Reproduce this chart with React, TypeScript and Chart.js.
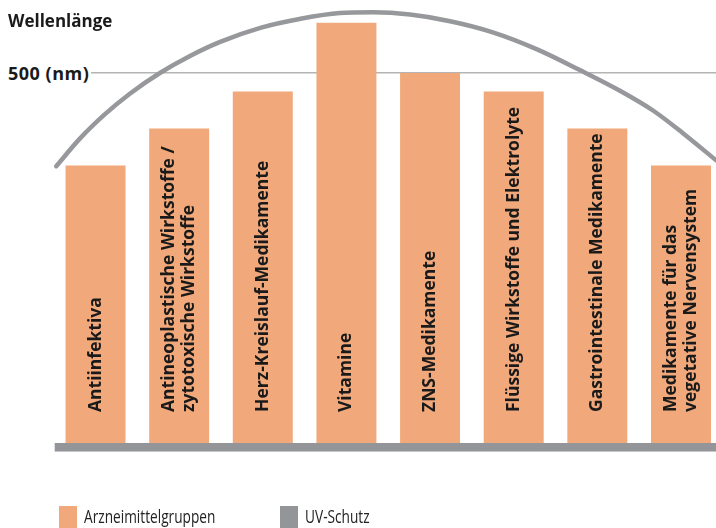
import React, { useEffect, useRef } from "react";
import { Chart, registerables } from "chart.js";

Chart.register(...registerables);

// ---- data ----
const categories: (string | string[])[] = [
  "Antiinfektiva",
  ["Antineoplastische Wirkstoffe /", "zytotoxische Wirkstoffe"],
  "Herz-Kreislauf-Medikamente",
  "Vitamine",
  "ZNS-Medikamente",
  "Flüssige Wirkstoffe und Elektrolyte",
  "Gastrointestinale Medikamente",
  ["Medikamente für das", "vegetative Nervensystem"],
];
const wavelengths = [375, 425, 475, 568, 500, 475, 425, 375];

// UV-Schutz arc, x in category units, y in nm
const uvArcX = [-0.47, -0.19, 0.11, 0.41, 0.77, 1.13, 1.49, 1.97, 2.44, 2.92, 3.32, 3.76, 4.24, 4.75, 5.28, 5.79, 6.27, 6.67, 7.02, 7.42];
const uvArcY = [374, 411, 444, 472, 500, 523, 542, 561, 573, 581, 582, 579, 570, 555, 532, 504, 476, 449, 419, 382];

const yTicks = [500];
const yTickLabels = ["500 (nm)"];
const axisTitle = "Wellenlänge";
const seriesNames = ["Arzneimittelgruppen", "UV-Schutz"];

const ORANGE = "#f1a87a";
const GRAY = "#939598";

const barLabelPlugin = {
  id: "barLabels",
  afterDatasetsDraw(chart: any) {
    const meta = chart.getDatasetMeta(0);
    const ctx = chart.ctx;
    ctx.save();
    ctx.fillStyle = "#1a1a1a";
    ctx.font = "bold 17.5px 'Open Sans'";
    ctx.textAlign = "left";
    ctx.textBaseline = "middle";
    meta.data.forEach((bar: any, i: number) => {
      const lab = categories[i];
      const lines = Array.isArray(lab) ? lab : [lab];
      const lh = 20;
      ctx.save();
      ctx.translate(bar.x, bar.base - 31);
      ctx.rotate(-Math.PI / 2);
      lines.forEach((t, j) => {
        ctx.fillText(t, 0, (j - (lines.length - 1) / 2) * lh);
      });
      ctx.restore();
    });
    ctx.restore();
  },
};

const baselinePlugin = {
  id: "uvBaseline",
  beforeDatasetsDraw(chart: any) {
    const { ctx, chartArea } = chart;
    ctx.save();
    ctx.fillStyle = GRAY;
    ctx.fillRect(chartArea.left + 1, chartArea.bottom, chart.width, 8);
    ctx.fillStyle = "#c4c5c7";
    ctx.fillRect(chartArea.left + 1, chartArea.bottom + 8, chart.width, 1);
    ctx.restore();
  },
};

export default function App() {
  const ref = useRef<HTMLCanvasElement>(null);
  useEffect(() => {
    if (!ref.current) return;
    const chart = new Chart(ref.current, {
      type: "bar",
      data: {
        labels: categories.map((c) => (Array.isArray(c) ? c.join(" ") : c)),
        datasets: [
          {
            type: "bar",
            label: seriesNames[0],
            data: wavelengths,
            backgroundColor: ORANGE,
            borderWidth: 0,
            grouped: false,
            barPercentage: 0.717,
            categoryPercentage: 1,
            order: 2,
          } as any,
          {
            type: "line",
            label: seriesNames[1],
            data: uvArcX.map((x, i) => ({ x, y: uvArcY[i] })),
            xAxisID: "x2",
            borderColor: "#97989b",
            backgroundColor: GRAY,
            borderWidth: 4.5,
            borderCapStyle: "round",
            borderJoinStyle: "round",
            pointRadius: 0,
            cubicInterpolationMode: "monotone",
            clip: false,
            order: 1,
          } as any,
        ],
      },
      options: {
        animation: false,
        responsive: false,
        devicePixelRatio: 1,
        layout: { padding: { left: 53.7, right: 7.2, top: 6.4, bottom: 85 } },
        plugins: { legend: { display: false }, tooltip: { enabled: false } },
        scales: {
          x: { type: "category", offset: true, display: false },
          x2: { type: "linear", min: -0.5, max: 7.5, offset: false, display: false, grid: { offset: false } },
          y: {
            min: 0,
            max: 590,
            display: true,
            ticks: { display: false },
            border: { display: false },
            grid: { color: "#b4b4b4", lineWidth: 1.5, drawTicks: false },
            afterBuildTicks: (axis: any) => {
              axis.ticks = yTicks.map((v) => ({ value: v }));
            },
          },
        },
      },
      plugins: [baselinePlugin, barLabelPlugin],
    });
    return () => chart.destroy();
  }, []);

  const textFont = "'Open Sans', sans-serif";
  const legendText: React.CSSProperties = {
    position: "absolute",
    top: 504,
    fontSize: 18,
    color: "#222",
    lineHeight: "24px",
    transform: "scaleX(0.76)",
    transformOrigin: "left center",
    whiteSpace: "nowrap",
  };
  return (
    <div
      style={{
        position: "absolute",
        left: 0,
        top: 0,
        width: 716,
        height: 528,
        overflow: "hidden",
        background: "#fff",
        fontFamily: textFont,
      }}
    >
      <canvas ref={ref} width={730} height={528} style={{ position: "absolute", left: 0, top: 0 }} />
      <div style={{ position: "absolute", left: 8, top: 9, fontSize: 17, fontWeight: 700, color: "#1a1a1a", lineHeight: "24px" }}>
        {axisTitle}
      </div>
      <div
        style={{
          position: "absolute",
          left: 8,
          top: 61,
          fontSize: 18,
          fontWeight: 700,
          letterSpacing: 0.5,
          color: "#1a1a1a",
          lineHeight: "24px",
          background: "#fff",
          paddingRight: 2,
        }}
      >
        {yTickLabels[0]}
      </div>
      <div style={{ position: "absolute", left: 59, top: 506, width: 18, height: 22, background: ORANGE }} />
      <div style={{ ...legendText, left: 84 }}>{seriesNames[0]}</div>
      <div style={{ position: "absolute", left: 280, top: 506, width: 18, height: 22, background: GRAY }} />
      <div style={{ ...legendText, left: 305 }}>{seriesNames[1]}</div>
    </div>
  );
}
